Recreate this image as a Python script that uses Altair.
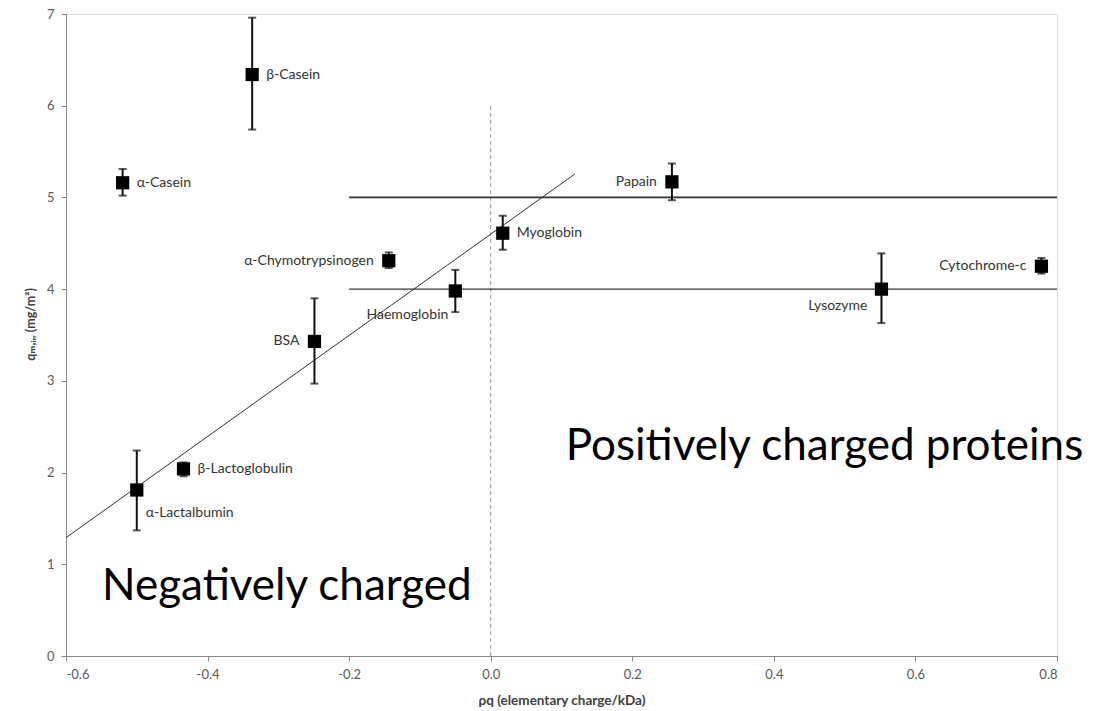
import altair as alt
import pandas as pd

proteins = ["α-Casein", "β-Casein", "α-Chymotrypsinogen", "Myoglobin", "Haemoglobin", "BSA",
            "β-Lactoglobulin", "α-Lactalbumin", "Papain", "Lysozyme", "Cytochrome-c"]
charge = [-0.520, -0.337, -0.144, 0.017, -0.050, -0.249, -0.434, -0.500, 0.256, 0.552, 0.778]
q_irr = [5.16, 6.34, 4.31, 4.61, 3.98, 3.43, 2.04, 1.81, 5.17, 4.00, 4.25]
q_low = [5.02, 5.74, 4.23, 4.43, 3.75, 2.97, 1.96, 1.37, 4.97, 3.63, 4.17]
q_high = [5.31, 6.96, 4.40, 4.80, 4.21, 3.90, 2.11, 2.24, 5.37, 4.39, 4.34]
placement = ["right", "right", "left", "right", "below-left", "left",
             "right", "below-right", "left", "below-left-near", "left"]

fit_x = [-0.6, 0.119]
fit_y = [1.29, 5.256]

ref_levels = [5.0, 4.0]
ref_start = [-0.2, -0.2]
ref_end = [0.8, 0.8]

divider_x = [0.0]
divider_top = [6.0]

notes = ["Positively charged proteins", "Negatively charged"]
notes_x = [0.4715, -0.288]
notes_y = [2.28, 0.75]

x_ticks = [-0.6, -0.4, -0.2, 0.0, 0.2, 0.4, 0.6, 0.8]
y_ticks = [0, 1, 2, 3, 4, 5, 6, 7]

FONT = "Lato, 'DejaVu Sans', sans-serif"

df = pd.DataFrame({"protein": proteins, "charge": charge, "q": q_irr,
                   "lo": q_low, "hi": q_high, "place": placement})
fit_df = pd.DataFrame({"charge": fit_x, "q": fit_y})
ref_df = pd.DataFrame({"q": ref_levels, "charge": ref_start, "x2": ref_end,
                       "w": [1.8, 1.3]})
div_df = pd.DataFrame({"charge": divider_x, "y2": divider_top, "q": [0.0]})
notes_df = pd.DataFrame({"text": notes, "charge": notes_x, "q": notes_y})

xs = alt.Scale(domain=[-0.6, 0.8], nice=False, zero=False)
ys = alt.Scale(domain=[0, 7], nice=False)

x_axis = alt.Axis(
    title="ρq (elementary charge/kDa)", values=x_ticks,
    labelExpr="replace(format(datum.value, '.1f'), '\u2212', '-')",
    grid=False, tickSize=5, labelPadding=7, titleY=44, titleBaseline="middle",
    titleFontWeight="bold", titleFontSize=13.5, labelFontSize=13,
    labelFont=FONT, labelColor="#595959", titleFont=FONT, titleColor="#404040",
    domainColor="#868686", tickColor="#868686")
y_axis = alt.Axis(
    title="qₘ,ᵢᵣᵣ (mg/m²)", values=y_ticks, format="d", grid=False,
    tickSize=5, labelPadding=7, titleX=-36, titleY=310, titleAlign="center",
    titleBaseline="middle", titleAngle=-90, titleFontWeight="bold",
    titleFontSize=12.5, labelFontSize=13,
    labelFont=FONT, labelColor="#595959", titleFont=FONT, titleColor="#404040",
    domainColor="#868686", tickColor="#868686")

X = lambda f="charge:Q": alt.X(f, scale=xs, axis=x_axis)
Y = lambda f="q:Q": alt.Y(f, scale=ys, axis=y_axis)

base = alt.Chart(df)

divider = alt.Chart(div_df).mark_rule(color="#9a9a9a", strokeDash=[4, 3], strokeWidth=1).encode(
    x=X(), y=Y(), y2="y2:Q")

refs = alt.Chart(ref_df).mark_rule(color="#333333").encode(
    y=Y(), x=X(), x2="x2:Q",
    strokeWidth=alt.StrokeWidth("w:Q", scale=None, legend=None))

fit = alt.Chart(fit_df).mark_line(color="#333333", strokeWidth=1).encode(x=X(), y=Y())

errs = base.mark_errorbar(color="#111111", thickness=2,
                          ticks=alt.TickConfig(size=8, thickness=2)).encode(
    x=X(), y=Y("lo:Q"), y2="hi:Q")

pts = base.mark_square(size=175, color="#000000", opacity=1).encode(x=X(), y=Y())

label_styles = {
    "right": dict(align="left", dx=14, dy=0),
    "left": dict(align="right", dx=-15, dy=0),
    "below-left": dict(align="right", dx=-7, dy=24),
    "below-left-near": dict(align="right", dx=-14, dy=17),
    "below-right": dict(align="left", dx=9, dy=23),
}
labels = []
for key, st in label_styles.items():
    labels.append(base.transform_filter(alt.datum.place == key).mark_text(
        font=FONT, fontSize=14, color="#333333", baseline="middle", **st).encode(
        x=X(), y=Y(), text="protein:N"))

big = alt.Chart(notes_df).mark_text(font=FONT, fontSize=44, color="#000000",
                                    align="center", baseline="middle").encode(
    x=X(), y=Y(), text="text:N")

chart = alt.layer(divider, refs, fit, errs, pts, *labels, big).properties(
    width=991, height=642,
    autosize=alt.AutoSizeParams(type="none"),
    padding={"left": 66, "top": 14, "right": 55, "bottom": 55},
).configure_view(stroke=None).configure_axis(
    domainWidth=1.2, tickWidth=1.2,
).configure(background="white")

chart.save("out.html", embed_options={"renderer": "svg", "actions": False})
